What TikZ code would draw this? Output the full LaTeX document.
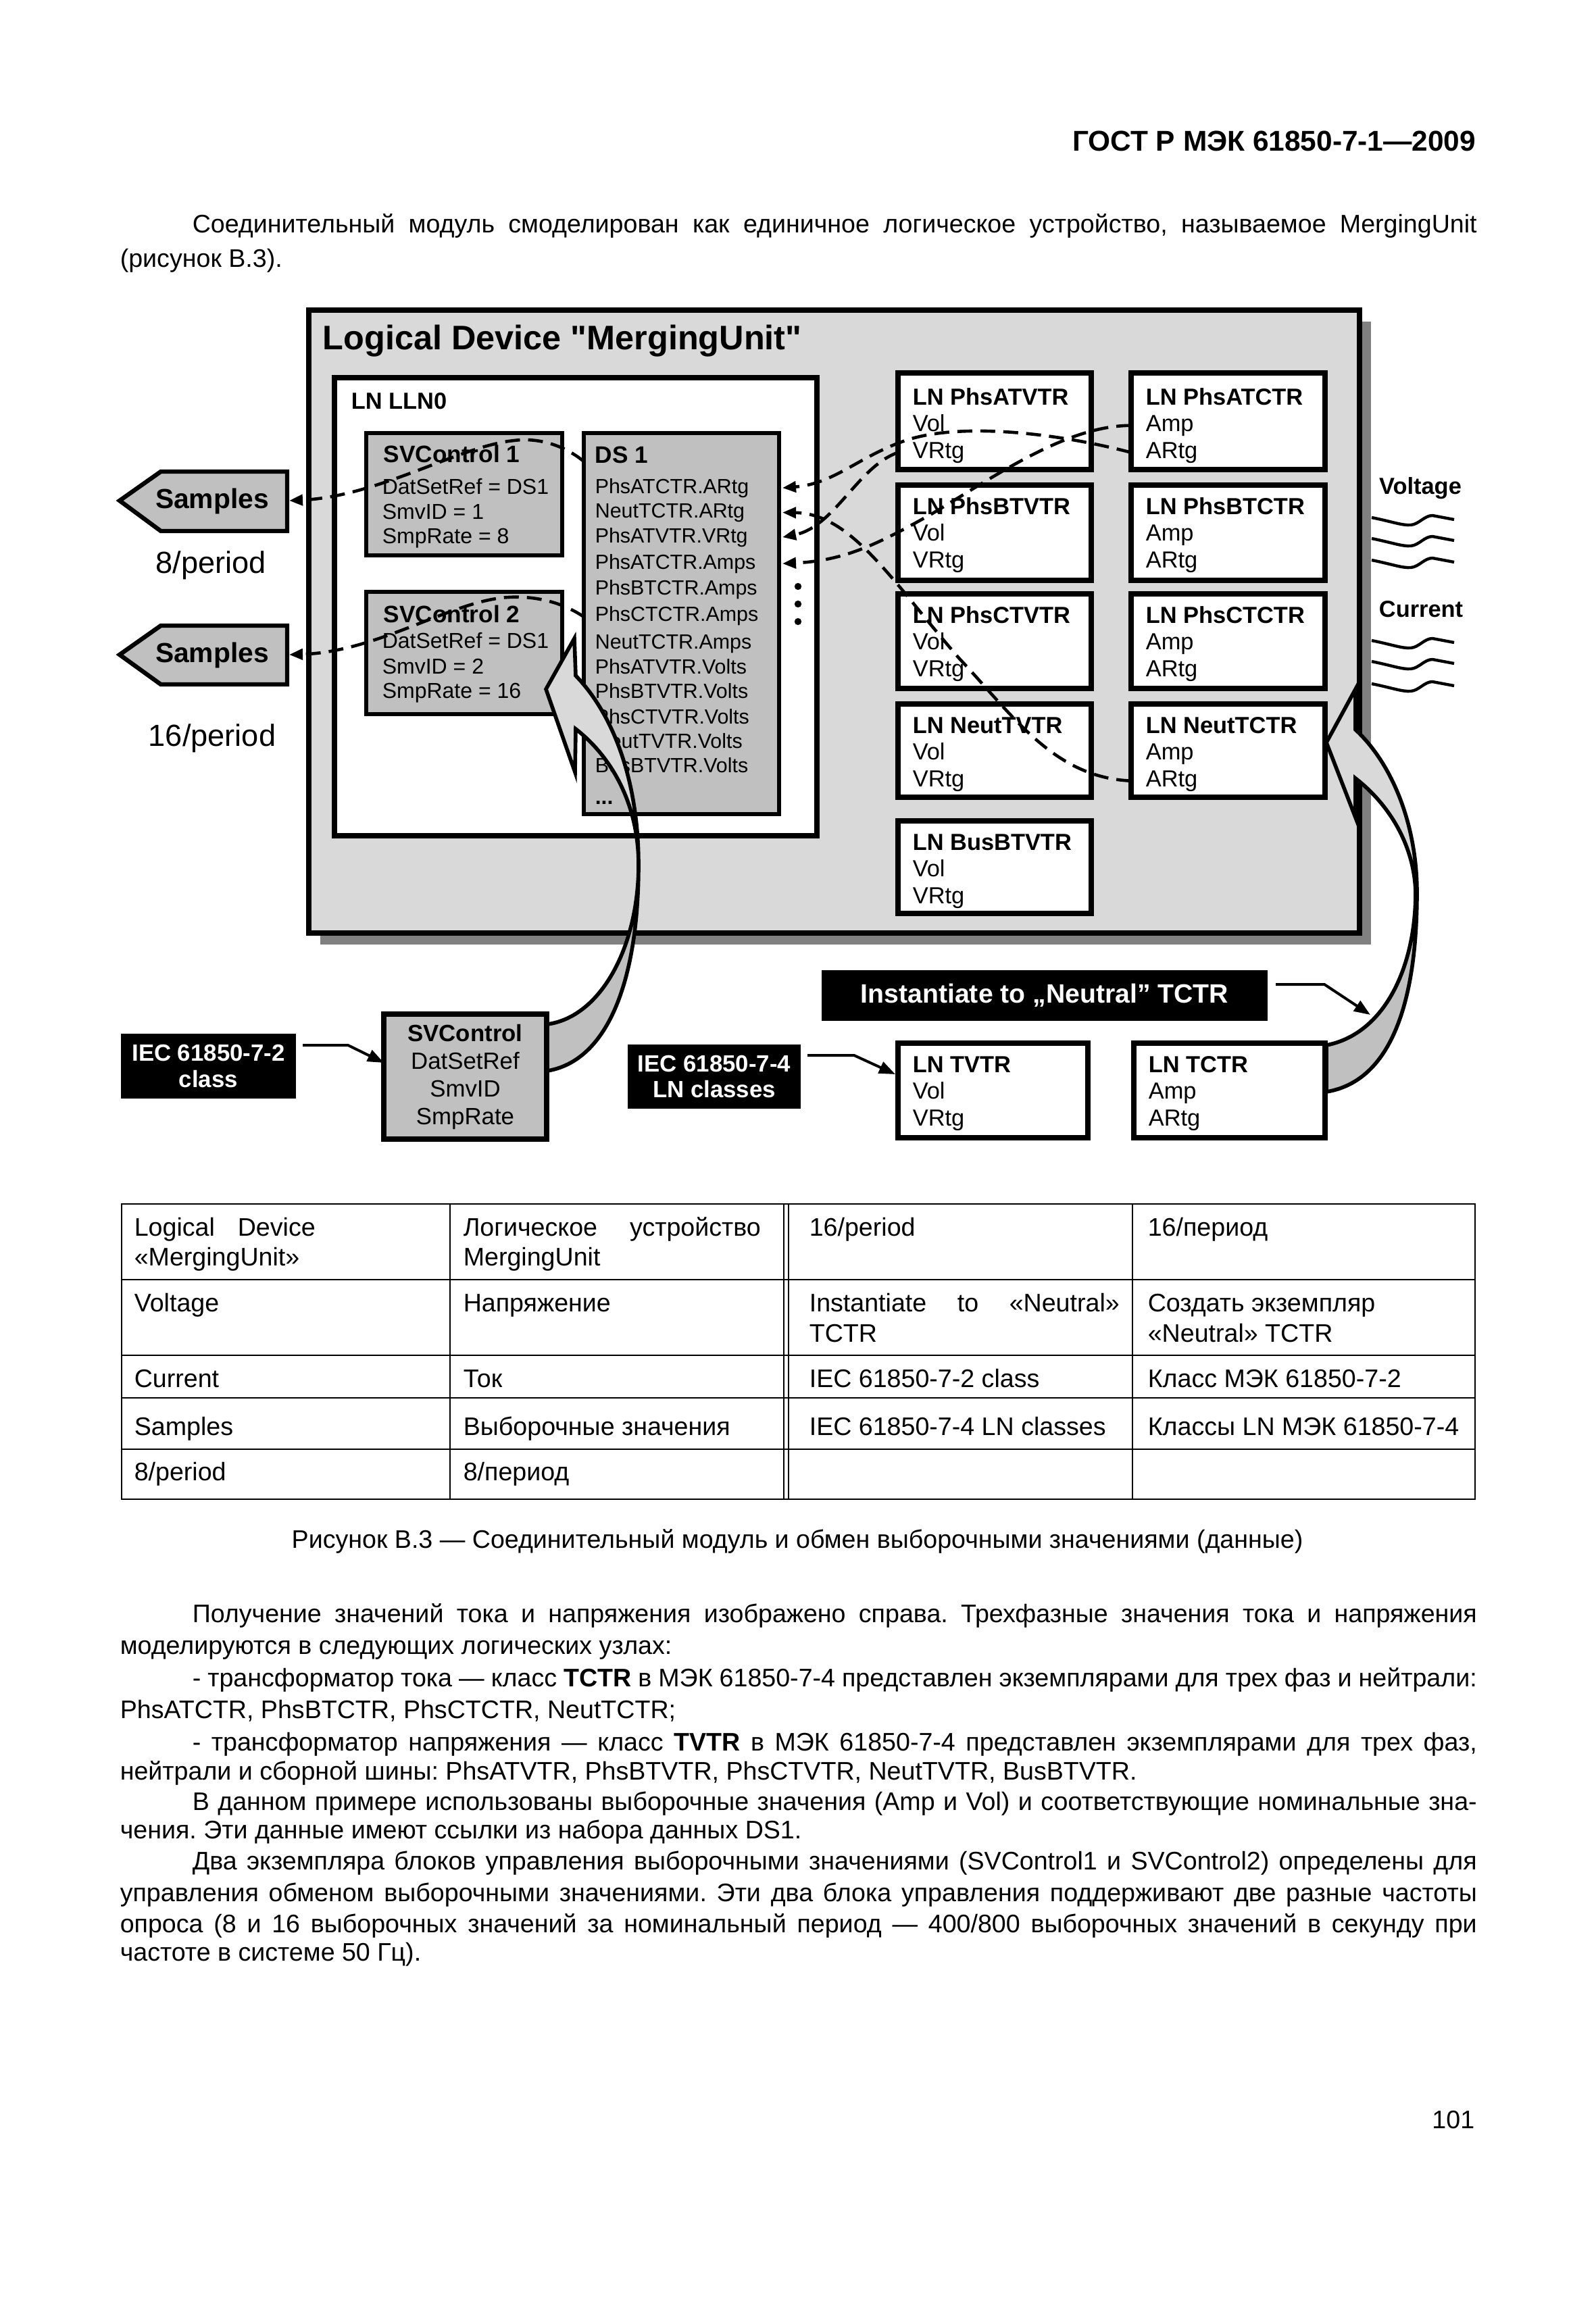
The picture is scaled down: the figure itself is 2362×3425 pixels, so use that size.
\documentclass[tikz,border=0pt]{standalone}
\usepackage{fontspec}
\setmainfont{Liberation Sans}
\newfontfamily\rawsans{Liberation Sans}
\usetikzlibrary{arrows.meta,calc}
\definecolor{lgray}{HTML}{D9D9D9}
\definecolor{mgray}{HTML}{C0C0C0}
\definecolor{dgray}{HTML}{808080}
\frenchspacing
\newcommand\fsz[1]{\fontsize{#1}{#1}\selectfont}
\newcommand\bodyf{\fontsize{9.4}{11}\selectfont\frenchspacing}
\newcommand\mybox[6]{\node[bx,#6,minimum width={(#4-#2)*0.25pt},minimum height={(#5-#3)*0.25pt}] (#1) at (#2,#3) {};}
\newcommand\lnbox[9]{%
  \mybox{#1}{#2}{#3}{#4}{#5}{fill=white}
  \node[ttl] (#1-a) at ($(#1.north west)+(21,43+#9)$) {#6};
  \node[bdy] (#1-b) at ($(#1.north west)+(21,82+#9)$) {#7};
  \node[bdy] (#1-c) at ($(#1.north west)+(21,122+#9)$) {#8};}
\def\arrowA{(808,1020) -- (850,945) -- (852,1000) .. controls (910,1060) and (945,1160) .. (945,1280) .. controls (945,1450) and (900,1570) .. (810,1585) -- (810,1516) .. controls (890,1505) and (945,1400) .. (945,1280) .. controls (945,1190) and (905,1120) .. (852,1079) -- (851,1143) -- cycle}
\def\arrowB{(1963,1099) -- (2006,1020) -- (2006,1080) .. controls (2060,1130) and (2097,1220) .. (2097,1321) .. controls (2097,1480) and (2060,1600) .. (1963,1616) -- (1963,1547) .. controls (2050,1530) and (2095,1430) .. (2095,1321) .. controls (2093,1250) and (2055,1190) .. (2006,1152) -- (2006,1210) -- cycle}
\begin{document}
\begin{tikzpicture}[x=0.25pt,y=-0.25pt,
  bx/.style={draw,line width=1.8pt,inner sep=0pt,outer sep=0pt,anchor=north west},
  ttl/.style={anchor=base west,inner sep=0pt,font=\fsz{8.6}\bfseries},
  bdy/.style={anchor=base west,inner sep=0pt,font=\fsz{8.6}},
  dsi/.style={anchor=base west,inner sep=0pt,font=\fsz{7.6}},
  svt/.style={anchor=base west,inner sep=0pt,font=\fsz{8.8}\bfseries},
  svl/.style={anchor=base west,inner sep=0pt,font=\fsz{8}},
  txt/.style={anchor=base west,inner sep=0pt,font=\bodyf},
  dsh/.style={line width=1.15pt,dash pattern=on 5.5pt off 3pt,-{Triangle[length=5pt,width=4pt]}},
  thinarr/.style={line width=1pt,-{Triangle[length=6pt,width=4.5pt]}},
  blk/.style={fill=black,text=white,inner sep=0pt,outer sep=0pt,align=center,anchor=north west},
  wave/.style={line width=1.1pt},
  big/.style={line width=1.4pt,line join=miter}]
\useasboundingbox (0,0) rectangle (2362,3425);
\fill[white] (0,0) rectangle (2362,3425);

% ---------- header and first paragraph
\node[anchor=base east,inner sep=0pt,font=\fsz{10.6}\bfseries] (hdr) at (2185,224) {ГОСТ Р МЭК 61850-7-1—2009};
\node[txt] (p1a) at (284,344) {\makebox[475.25pt][s]{Соединительный модуль смоделирован как единичное логическое устройство, называемое MergingUnit}};
\node[txt] (p1b) at (177,396) {(рисунок В.3).};

% ---------- main logical device box
\fill[dgray] (474,476) rectangle (2029,1398);
\mybox{main}{457}{459}{2012}{1381}{fill=lgray,line width=2.1pt}
\node[anchor=base west,inner sep=0pt,font=\fsz{12.6}\rawsans\bfseries] (mtitle) at (477,517) {Logical Device "MergingUnit"};

% LLN0
\mybox{lln}{495}{559}{1209}{1237}{fill=white,line width=2pt}
\node[ttl] (llnt) at (519,605) {LN LLN0};

% SVControl 1
\mybox{sv1}{542}{641}{832}{822}{fill=mgray,line width=1.6pt}
\node[svt] (sv1-t) at (567,684) {SVControl 1};
\node[svl] (sv1-a) at (565,731) {DatSetRef = DS1};
\node[svl] (sv1-b) at (565,768) {SmvID = 1};
\node[svl] (sv1-c) at (565,804) {SmpRate = 8};

% SVControl 2
\mybox{sv2}{542}{876}{832}{1057}{fill=mgray,line width=1.6pt}
\node[svt] (sv2-t) at (567,921) {SVControl 2};
\node[svl] (sv2-a) at (565,959) {DatSetRef = DS1};
\node[svl] (sv2-b) at (565,997) {SmvID = 2};
\node[svl] (sv2-c) at (565,1033) {SmpRate = 16};

% DS 1
\mybox{ds1}{864}{641}{1153}{1205}{fill=mgray,line width=1.6pt}
\node[svt] (ds1-t) at (880,685) {DS 1};
\foreach \t/\yy [count=\i] in {PhsATCTR.ARtg/730,NeutTCTR.ARtg/766,PhsATVTR.VRtg/803,PhsATCTR.Amps/842,PhsBTCTR.Amps/880,PhsCTCTR.Amps/919,NeutTCTR.Amps/960,PhsATVTR.Volts/997,PhsBTVTR.Volts/1033,PhsCTVTR.Volts/1071,NeutTVTR.Volts/1107,BusBTVTR.Volts/1143}
  \node[dsi] (ds-\i) at (880,\yy) {\t};
\node[dsi,font=\fsz{8}\bfseries] (ds-13) at (880,1190) {...};
\foreach \yy [count=\i] in {868,894,920}
  \node[circle,fill=black,inner sep=0pt,minimum size=2.6pt] (dot\i) at (1181,\yy) {};

% right LN boxes
\lnbox{vA}{1329}{552}{1615}{695}{LN PhsATVTR}{Vol}{VRtg}{4}
\lnbox{vB}{1329}{718}{1615}{859}{LN PhsBTVTR}{Vol}{VRtg}{0}
\lnbox{vC}{1329}{879}{1615}{1019}{LN PhsCTVTR}{Vol}{VRtg}{0}
\lnbox{vN}{1329}{1042}{1615}{1180}{LN NeutTVTR}{Vol}{VRtg}{0}
\lnbox{vS}{1329}{1215}{1615}{1352}{LN BusBTVTR}{Vol}{VRtg}{0}
\lnbox{cA}{1674}{552}{1961}{695}{LN PhsATCTR}{Amp}{ARtg}{4}
\lnbox{cB}{1674}{718}{1961}{859}{LN PhsBTCTR}{Amp}{ARtg}{0}
\lnbox{cC}{1674}{879}{1961}{1019}{LN PhsCTCTR}{Amp}{ARtg}{0}
\lnbox{cN}{1674}{1042}{1961}{1180}{LN NeutTCTR}{Amp}{ARtg}{0}

% Samples arrows (left)
\draw[fill=mgray,line width=1.6pt] (177,741) -- (238,698) -- (425,698) -- (425,786) -- (238,786) -- cycle;
\node[anchor=base,inner sep=0pt,font=\fsz{10.2}\bfseries] (samp1) at (314,752) {Samples};
\draw[fill=mgray,line width=1.6pt] (177,969) -- (238,926) -- (425,926) -- (425,1013) -- (238,1013) -- cycle;
\node[anchor=base,inner sep=0pt,font=\fsz{10.2}\bfseries] (samp2) at (314,980) {Samples};
\node[anchor=base,inner sep=0pt,font=\fsz{11.3}] (per8) at (312,848) {8/period};
\node[anchor=base,inner sep=0pt,font=\fsz{11.3}] (per16) at (314,1104) {16/period};
\coordinate (s1t) at (428,741);
\coordinate (s2t) at (428,969);

% dashed connectors
\draw[dsh] ($(ds1.north west)+(0,42)$) .. controls (830,655) and (790,648) .. (761,652) .. controls (680,660) and (560,735) .. (s1t);
\draw[dsh] ($(ds1.north west)+(0,272)$) .. controls (830,890) and (790,882) .. (753,884) .. controls (670,888) and (560,965) .. (s2t);
\draw[dsh] (cA.west |- cA-c) .. controls (1560,640) and (1420,625) .. (1340,652) .. controls (1270,676) and (1235,716) .. ($(ds1.east |- ds-1)+(5,0)$);
\draw[dsh] (cA.west |- cA-b) .. controls (1580,630) and (1480,700) .. (1380,760) .. controls (1300,805) and (1250,830) .. ($(ds1.east |- ds-4)+(5,0)$);
\draw[dsh] (vA.west |- vA-c) .. controls (1270,690) and (1235,780) .. ($(ds1.east |- ds-3)+(5,0)$);
\draw[dsh] (cN.west |- cN-c) .. controls (1560,1151) and (1500,1060) .. (1420,975) .. controls (1320,860) and (1260,760) .. ($(ds1.east |- ds-2)+(5,0)$);

% voltage / current
\node[anchor=base,inner sep=0pt,font=\fsz{8.6}\bfseries] (volt) at (2102,731) {Voltage};
\node[anchor=base,inner sep=0pt,font=\fsz{8.6}\bfseries] (curr) at (2103,913) {Current};
\foreach \yy in {766,797,829,948,979,1012}
  \draw[wave] (2030,\yy) .. controls (2060,\yy+6) and (2075,\yy+12) .. (2088,\yy+11) .. controls (2100,\yy+10) and (2108,\yy-3) .. (2120,\yy-3) -- (2152,\yy+3);

% big curved arrows
\fill[lgray] \arrowA;
\begin{scope}\clip (0,1280) rectangle (2362,1800); \fill[mgray] \arrowA; \end{scope}
\draw[big] \arrowA;
\fill[lgray] \arrowB;
\begin{scope}\clip (0,1321) rectangle (2362,1800); \fill[mgray] \arrowB; \end{scope}
\draw[big] \arrowB;

% bottom boxes
\node[bx,fill=mgray,minimum width={(809-568)*0.25pt},minimum height={(1686-1501)*0.25pt},align=center,font=\fontsize{8.7}{10.25}\selectfont] (svc) at (568,1501) {\textbf{SVControl}\\DatSetRef\\SmvID\\SmpRate};
\lnbox{tv}{1329}{1544}{1610}{1684}{LN TVTR}{Vol}{VRtg}{0}
\lnbox{tc}{1678}{1544}{1961}{1684}{LN TCTR}{Amp}{ARtg}{0}

\node[blk,minimum width={(438-179)*0.25pt},minimum height={(1626-1530)*0.25pt},font=\fontsize{8.7}{9.6}\selectfont\bfseries] (iec72) at (179,1530) {IEC 61850-7-2\\class};
\node[blk,minimum width={(1185-929)*0.25pt},minimum height={(1641-1546)*0.25pt},font=\fontsize{8.7}{9.6}\selectfont\bfseries] (iec74) at (929,1546) {IEC 61850-7-4\\LN classes};
\node[blk,minimum width={(1876-1216)*0.25pt},minimum height={(1511-1436)*0.25pt},font=\fsz{9.8}\bfseries] (inst) at (1216,1436) {Instantiate to „Neutral” TCTR};
\coordinate (instTip) at (2028,1502);

\draw[thinarr] ($(iec72.north east)+(10,17)$) -- (515,1547) -- ($(svc.north west)+(0,72)$);
\draw[thinarr] ($(iec74.north east)+(10,16)$) -- (1264,1562) -- ($(tv.north west)+(-4,46)$);
\draw[thinarr] ($(inst.north east)+(12,21)$) -- (1960,1457) -- (instTip);

% ---------- table
\draw[line width=0.7pt] (180,1782) rectangle (2183,2219);
\foreach \yy in {1894,2006,2069,2145} \draw[line width=0.7pt] (180,\yy) -- (2183,\yy);
\draw[line width=0.6pt] (666,1782) -- (666,2219);
\draw[line width=0.5pt] (1160,1782) -- (1160,2219);
\draw[line width=0.5pt] (1167,1782) -- (1167,2219);
\draw[line width=0.6pt] (1676,1782) -- (1676,2219);

\node[txt] (t11a) at (198,1829) {\makebox[67pt][s]{Logical Device}};
\node[txt] (t11b) at (198,1873) {«MergingUnit»};
\node[txt] (t12a) at (685,1829) {\makebox[110pt][s]{Логическое устройство}};
\node[txt] (t12b) at (685,1873) {MergingUnit};
\node[txt] (t13) at (1197,1829) {16/period};
\node[txt] (t14) at (1698,1829) {16/период};
\node[txt] (t21) at (198,1941) {Voltage};
\node[txt] (t22) at (685,1941) {Напряжение};
\node[txt] (t23a) at (1197,1941) {\makebox[114.75pt][s]{Instantiate to «Neutral»}};
\node[txt] (t23b) at (1197,1986) {TCTR};
\node[txt] (t24a) at (1698,1941) {Создать экземпляр};
\node[txt] (t24b) at (1698,1986) {«Neutral» TCTR};
\node[txt] (t31) at (198,2053) {Current};
\node[txt] (t32) at (685,2053) {Ток};
\node[txt] (t33) at (1197,2053) {IEC 61850-7-2 class};
\node[txt] (t34) at (1698,2053) {Класс МЭК 61850-7-2};
\node[txt] (t41) at (198,2124) {Samples};
\node[txt] (t42) at (685,2124) {Выборочные значения};
\node[txt] (t43) at (1197,2124) {IEC 61850-7-4 LN classes};
\node[txt] (t44) at (1698,2124) {Классы LN МЭК 61850-7-4};
\node[txt] (t51) at (198,2191) {8/period};
\node[txt] (t52) at (685,2191) {8/период};

\node[anchor=base,inner sep=0pt,font=\bodyf] (cap) at (1180,2291) {Рисунок В.3 — Соединительный модуль и обмен выборочными значениями (данные)};

% ---------- closing text
\node[txt] (q1) at (284,2401) {\makebox[475.25pt][s]{Получение значений тока и напряжения изображено справа. Трехфазные значения тока и напряжения}};
\node[txt] (q2) at (177,2448) {моделируются в следующих логических узлах:};
\node[txt] (q3) at (284,2496) {\makebox[475.25pt][s]{- трансформатор тока — класс \textbf{TCTR} в МЭК 61850-7-4 представлен экземплярами для трех фаз и нейтрали:}};
\node[txt] (q4) at (177,2543) {PhsATCTR, PhsBTCTR, PhsCTCTR, NeutTCTR;};
\node[txt] (q5) at (284,2591) {\makebox[475.25pt][s]{- трансформатор напряжения — класс \textbf{TVTR} в МЭК 61850-7-4 представлен экземплярами для трех фаз,}};
\node[txt] (q6) at (177,2634) {нейтрали и сборной шины: PhsATVTR, PhsBTVTR, PhsCTVTR, NeutTVTR, BusBTVTR.};
\node[txt] (q7) at (284,2679) {\makebox[475.25pt][s]{В данном примере использованы выборочные значения (Amp и Vol) и соответствующие номинальные зна-}};
\node[txt] (q8) at (177,2721) {чения. Эти данные имеют ссылки из набора данных DS1.};
\node[txt] (q9) at (284,2767) {\makebox[475.25pt][s]{Два экземпляра блоков управления выборочными значениями (SVControl1 и SVControl2) определены для}};
\node[txt] (q10) at (177,2814) {\makebox[502pt][s]{управления обменом выборочными значениями. Эти два блока управления поддерживают две разные частоты}};
\node[txt] (q11) at (177,2860) {\makebox[502pt][s]{опроса (8 и 16 выборочных значений за номинальный период — 400/800 выборочных значений в секунду при}};
\node[txt] (q12) at (177,2902) {частоте в системе 50 Гц).};

\node[anchor=base east,inner sep=0pt,font=\bodyf] (pgno) at (2183,3150) {101};
\end{tikzpicture}
\end{document}
